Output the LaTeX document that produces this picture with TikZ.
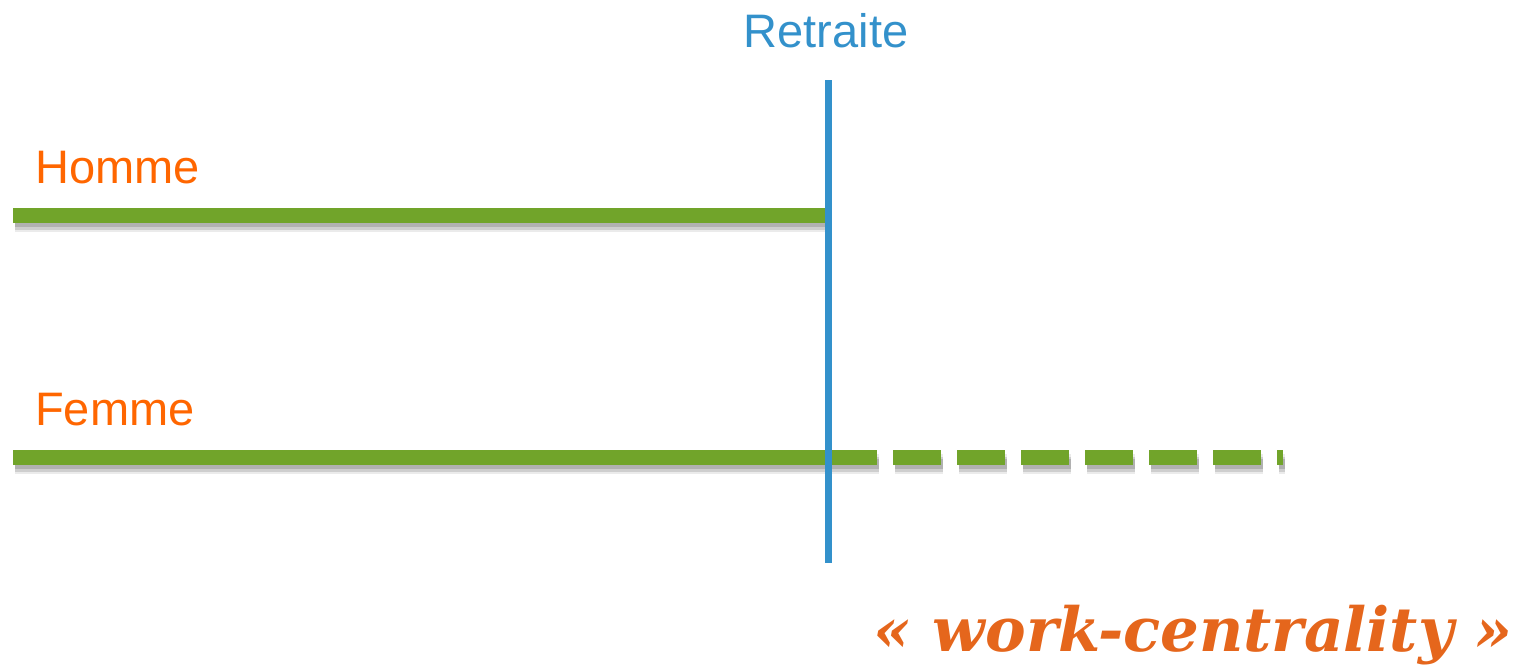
\documentclass[tikz,border=0pt]{standalone}
\usepackage{fontspec}
\setmainfont{Liberation Sans}
\newfontfamily\slabfont{DejaVu Serif}
\definecolor{lblue}{HTML}{3391CB}
\definecolor{lgreen}{HTML}{71A42A}
\definecolor{lorange}{HTML}{FF6600}
\definecolor{dorange}{HTML}{E5661C}
\tikzset{
  lifeline/.style={draw=lgreen, line width=15pt, line cap=butt},
  shadowA/.style={draw=black, opacity=0.08, line width=20pt, line cap=butt},
  shadowB/.style={draw=black, opacity=0.12, line width=15pt, line cap=butt},
  shadowC/.style={draw=black, opacity=0.14, line width=10pt, line cap=butt},
  label/.style={inner sep=0pt, font=\fontsize{47}{50}\selectfont},
  dashes/.style={dash pattern=on 48pt off 16pt},
}
\begin{document}
\begin{tikzpicture}[x=1pt,y=-1pt]
\useasboundingbox (0,0) rectangle (1531,665);
% coordinates
\coordinate (hA) at (13,215);
\coordinate (hB) at (826,215);
\coordinate (fA) at (13,457);
\coordinate (fB) at (877,457);
\coordinate (fC) at (893,457);
\coordinate (fD) at (1283,457);
\coordinate (rTop) at (828,80);
\coordinate (rBot) at (828,563);
% shadows
\foreach \s in {shadowA,shadowB,shadowC}{
  \draw[\s] ([shift={(2,7)}]hA) -- ([shift={(2,7)}]hB);
  \draw[\s] ([shift={(2,7)}]fA) -- ([shift={(2,7)}]fB);
  \draw[\s, dashes] ([shift={(2,7)}]fC) -- ([shift={(2,7)}]fD);
}
% lines
\draw[lifeline] (hA) -- (hB);
\draw[lifeline] (fA) -- (fB);
\draw[lifeline, dashes] (fC) -- (fD);
\draw[draw=lblue, line width=7pt] (rTop) -- (rBot);
% labels
\node[label, text=lblue, anchor=base] (ret) at (826,47) {Retraite};
\node[label, text=lorange, anchor=base west] (hom) at (35,183) {Homme};
\node[label, text=lorange, anchor=base west] (fem) at (35,425) {Femme};
\node[inner sep=0pt, anchor=base east, text=dorange, font=\slabfont\bfseries\itshape\fontsize{61}{66}\selectfont] (wc) at (1513,651) {« work-centrality »};
\end{tikzpicture}
\end{document}
